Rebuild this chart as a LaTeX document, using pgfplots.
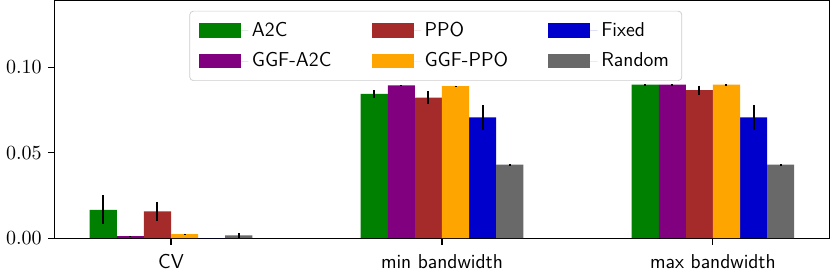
\documentclass[border=0pt]{standalone}
\usepackage{pgfplots}
\pgfplotsset{compat=1.18}
\definecolor{cA2C}{RGB}{0,128,0}
\definecolor{cGA2C}{RGB}{128,0,128}
\definecolor{cPPO}{RGB}{165,42,42}
\definecolor{cGPPO}{RGB}{255,165,0}
\definecolor{cFixed}{RGB}{0,0,205}
\definecolor{cRandom}{RGB}{105,105,105}
\pgfplotsset{
  mybar/.style={fill=#1, draw=none,
    error bars/.cd, y dir=both, y explicit,
    error mark=none, error bar style={line width=1.1pt, black}, /pgfplots/.cd},
}
\begin{document}
\begin{tikzpicture}
\begin{axis}[
  scale only axis, width=424pt, height=130pt,
  ybar, bar width=0.1,
  xmin=-0.43, xmax=2.43, ymin=0, ymax=0.139,
  xtick={0,1,2}, xticklabels={CV, min bandwidth, max bandwidth},
  tick label style={font=\fontsize{11}{13}\selectfont},
  xticklabel style={font=\sffamily\fontsize{11}{13}\selectfont, yshift=-2pt},
  ytick={0,0.05,0.10},
  scaled y ticks=false,
  yticklabel style={/pgf/number format/fixed, /pgf/number format/precision=2, /pgf/number format/fixed zerofill},
  tick align=outside, xtick pos=bottom, ytick pos=left,
  major tick length=3.5pt,
  axis line style={line width=0.6pt},
  every tick/.style={black, line width=0.6pt},
  legend columns=3,
  legend cell align=left,
  legend image code/.code={\fill[#1, sharp corners] (0pt,-4pt) rectangle (23pt,4pt); \path (0pt,0pt) -- (27pt,0pt);},
  legend style={at={(0.492,0.957)}, anchor=north, draw=black!20, rounded corners=2pt,
    font=\sffamily\fontsize{11}{13}\selectfont, inner xsep=5pt, inner ysep=4pt, row sep=3.3pt,
    /tikz/every even column/.append style={column sep=20pt}},
]
\addplot[bar shift=-0.25, mybar=cA2C] coordinates {(0,0.0166) +- (0,0.0084) (1,0.0844) +- (0,0.0024) (2,0.0898) +- (0,0.0002)};
\addlegendentry{A2C}
\addplot[bar shift=-0.05, mybar=cPPO] coordinates {(0,0.0156) +- (0,0.0056) (1,0.0822) +- (0,0.0038) (2,0.0866) +- (0,0.0026)};
\addlegendentry{PPO}
\addplot[bar shift=0.15, mybar=cFixed] coordinates {(0,0.0) +- (0,0.0) (1,0.0706) +- (0,0.0073) (2,0.0706) +- (0,0.0073)};
\addlegendentry{Fixed}
\addplot[bar shift=-0.15, mybar=cGA2C] coordinates {(0,0.0012) +- (0,0.0002) (1,0.0893) +- (0,0.0002) (2,0.0898) +- (0,0.0002)};
\addlegendentry{GGF-A2C}
\addplot[bar shift=0.05, mybar=cGPPO] coordinates {(0,0.0024) +- (0,0.0003) (1,0.0889) +- (0,0.0002) (2,0.0898) +- (0,0.0002)};
\addlegendentry{GGF-PPO}
\addplot[bar shift=0.25, mybar=cRandom] coordinates {(0,0.0016) +- (0,0.0015) (1,0.0430) +- (0,0.0002) (2,0.0430) +- (0,0.0002)};
\addlegendentry{Random}
\end{axis}
\end{tikzpicture}
\end{document}
